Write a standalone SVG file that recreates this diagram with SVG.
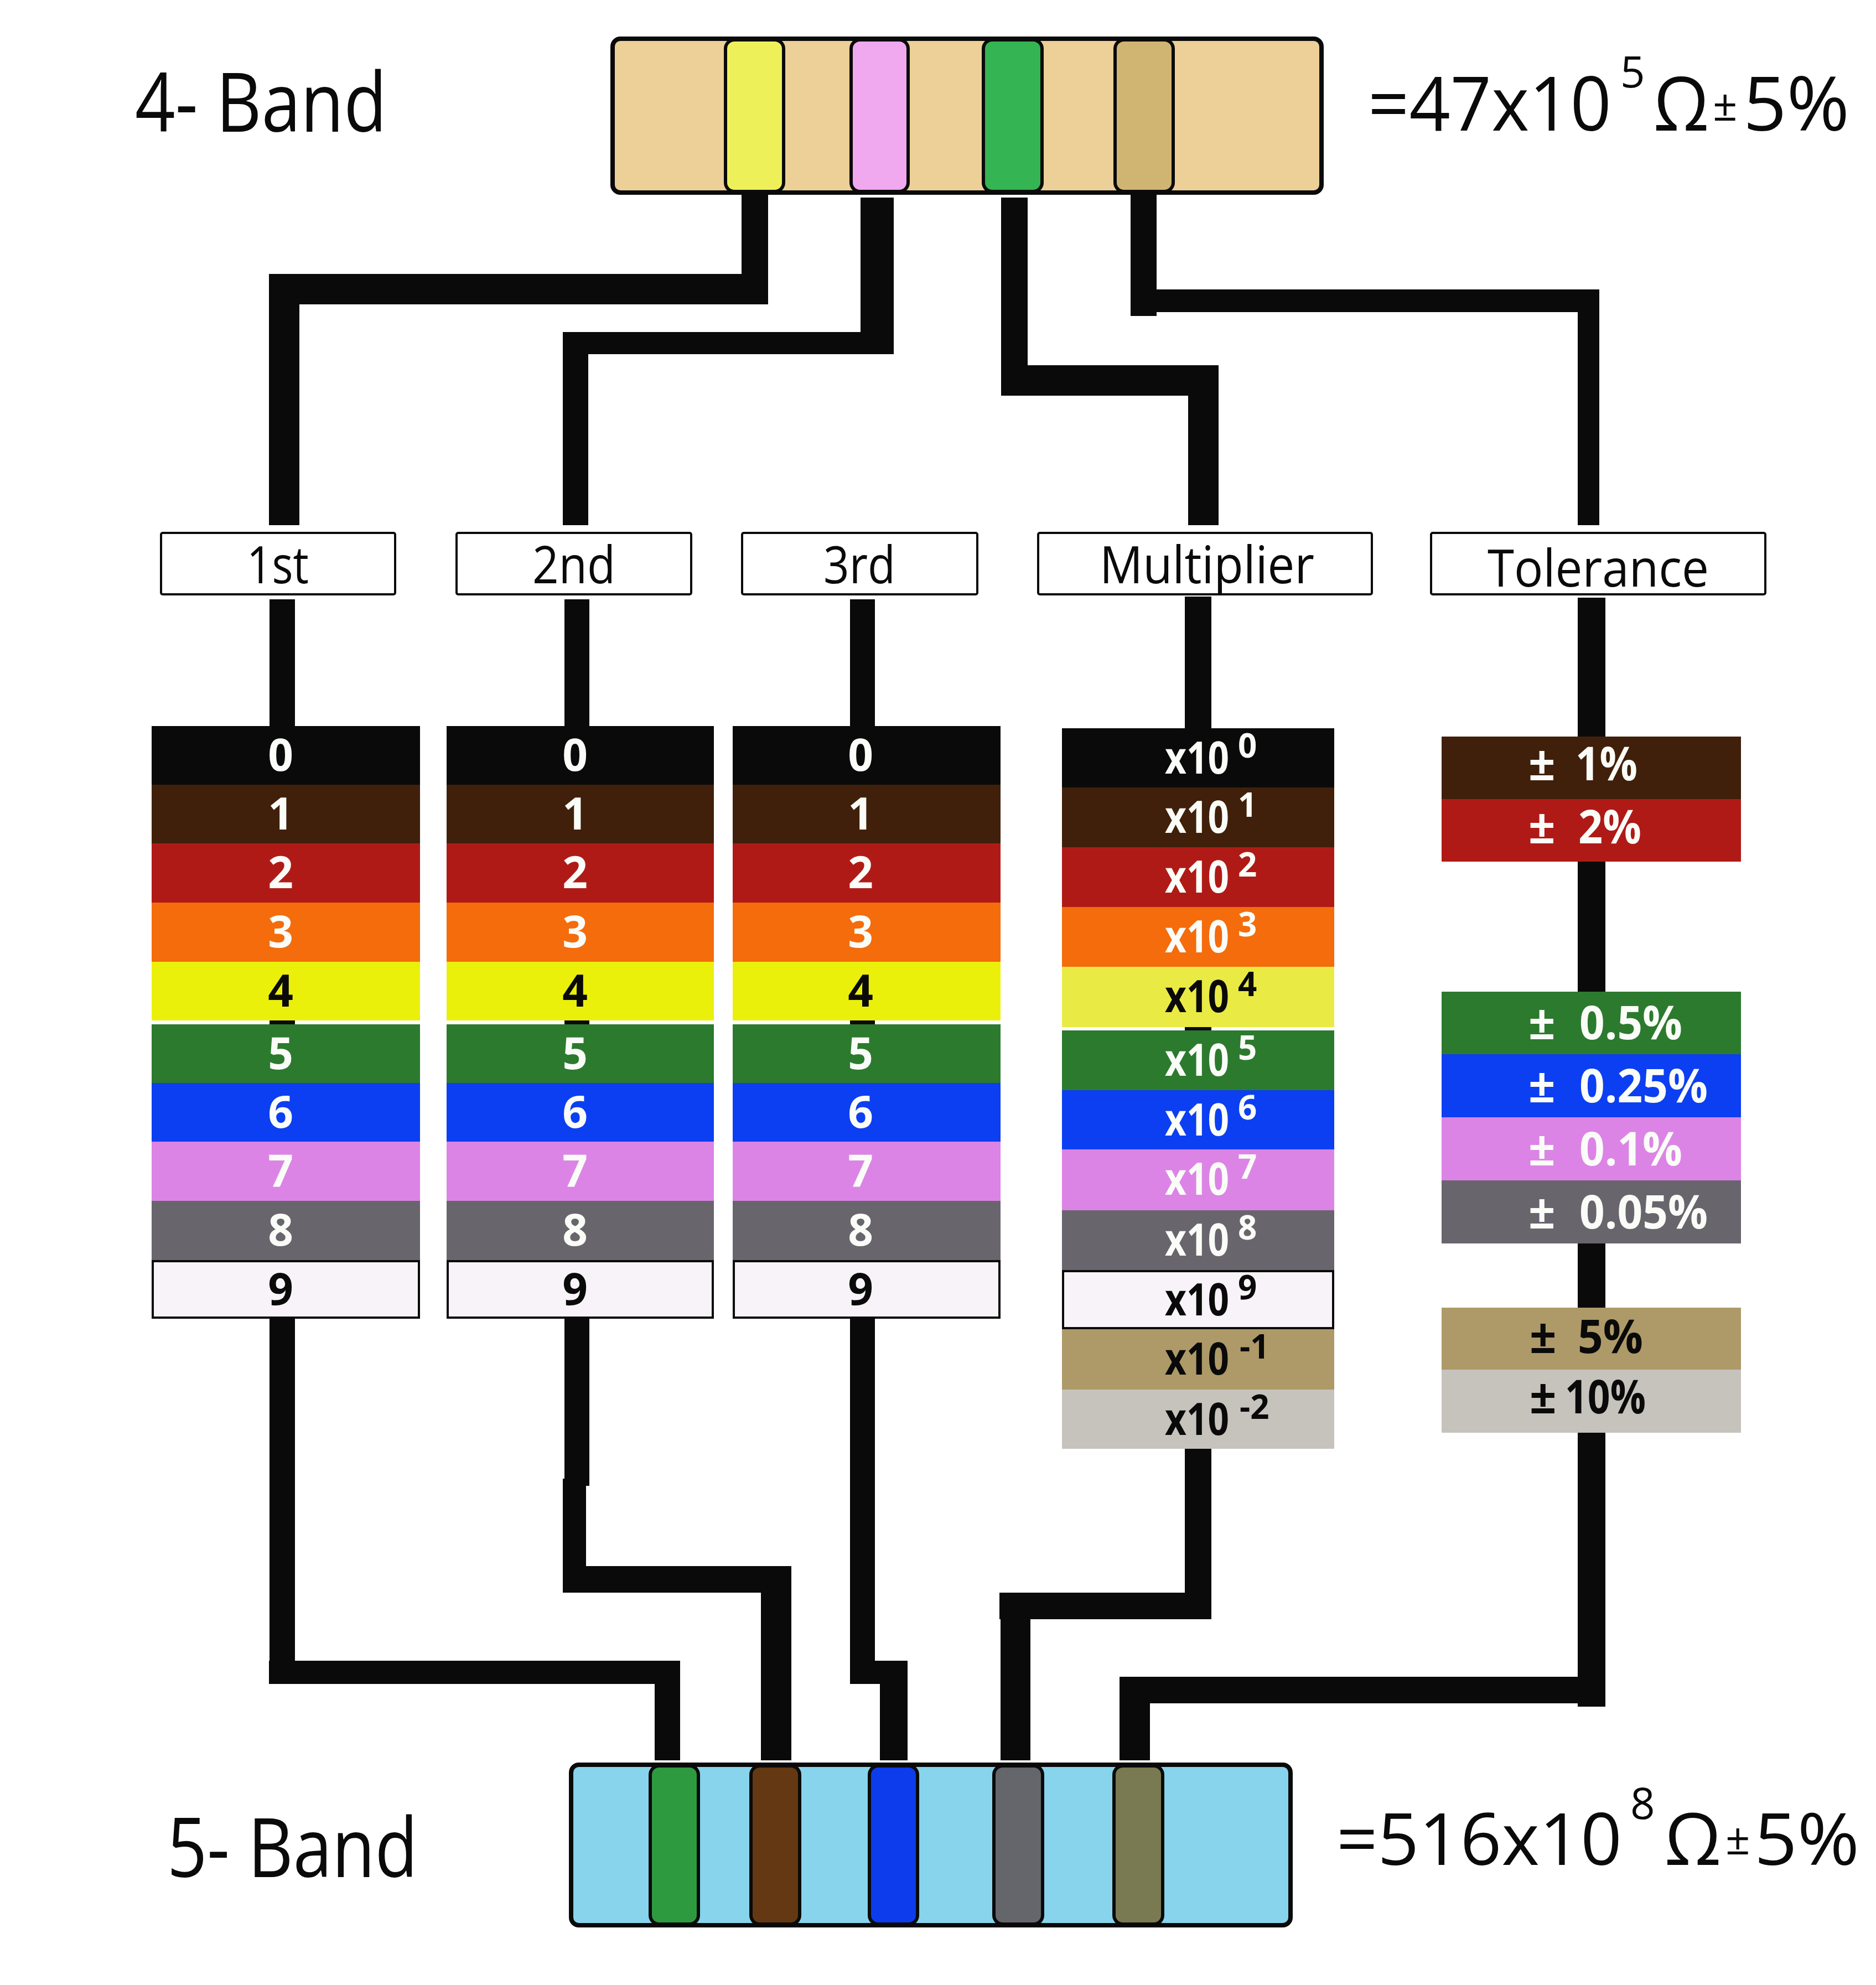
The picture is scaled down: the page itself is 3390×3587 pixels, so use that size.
<svg xmlns="http://www.w3.org/2000/svg" width="3390" height="3587" viewBox="0 0 3390 3587">
<style>
text{font-family:"Open Sans","Noto Sans","Liberation Sans",sans-serif}
.ln{fill:#0a0a0a}
.bx{fill:#fff;stroke:#0a0a0a;stroke-width:4}
.lbl{font-size:94px;fill:#0a0a0a;text-anchor:middle}
.big{font-size:136px;fill:#0a0a0a}
.big2{font-size:130px;fill:#0a0a0a}
.sup{font-size:78px;fill:#0a0a0a}
.ttl{font-size:148px;fill:#0a0a0a}
.d{font-size:80px;font-weight:700;text-anchor:middle}
.m{font-size:80px;font-weight:700}
.ms{font-size:60px;font-weight:700}
.t{font-size:85px;font-weight:700}
.w{fill:#fafcf8}
.b{fill:#0a0a0a}
.c0{fill:#0a0a0a}.c1{fill:#40200a}.c2{fill:#b01a16}.c3{fill:#f46c0c}.c4{fill:#eaf00a}.c4m{fill:#eaea44}
.c5{fill:#2c7a2e}.c6{fill:#0c3ff2}.c7{fill:#dc84e6}.c8{fill:#69656c}.c9{fill:#f7f3f8;stroke:#0a0a0a;stroke-width:4}
.cg{fill:#ae9a68}.cs{fill:#c5c3bc}
.band{stroke:#0a0a0a;stroke-width:6}
</style>

<g id="connectors">
  <rect class="ln" x="1340" y="345" width="48" height="205"/>
  <rect class="ln" x="486" y="495" width="902" height="55"/>
  <rect class="ln" x="486" y="495" width="55" height="454"/>

  <rect class="ln" x="1555" y="357" width="60" height="283"/>
  <rect class="ln" x="1017" y="600" width="598" height="40"/>
  <rect class="ln" x="1017" y="600" width="46" height="349"/>

  <rect class="ln" x="1809" y="357" width="48" height="358"/>
  <rect class="ln" x="1809" y="660" width="393" height="55"/>
  <rect class="ln" x="2147" y="660" width="55" height="289"/>

  <rect class="ln" x="2043" y="348" width="47" height="223"/>
  <rect class="ln" x="2043" y="523" width="847" height="41"/>
  <rect class="ln" x="2851" y="523" width="39" height="426"/>

  <rect class="ln" x="487" y="1083" width="46" height="1960"/>
  <rect class="ln" x="486" y="3001" width="743" height="42"/>
  <rect class="ln" x="1183" y="3001" width="46" height="180"/>

  <rect class="ln" x="1020" y="1083" width="45" height="1602"/>
  <rect class="ln" x="1017" y="2672" width="42" height="206"/>
  <rect class="ln" x="1017" y="2830" width="413" height="48"/>
  <rect class="ln" x="1375" y="2830" width="55" height="351"/>

  <rect class="ln" x="1536" y="1083" width="45" height="1960"/>
  <rect class="ln" x="1536" y="3001" width="104" height="42"/>
  <rect class="ln" x="1590" y="3001" width="50" height="180"/>

  <rect class="ln" x="2141" y="1078" width="48" height="1800"/>
  <rect class="ln" x="1806" y="2878" width="383" height="48"/>
  <rect class="ln" x="1808" y="2878" width="54" height="303"/>

  <rect class="ln" x="2851" y="1080" width="50" height="2004"/>
  <rect class="ln" x="2023" y="3030" width="878" height="48"/>
  <rect class="ln" x="2023" y="3030" width="55" height="151"/>
</g>

<g id="title-4band">
  <text class="ttl" x="244" y="238" textLength="455" lengthAdjust="spacingAndGlyphs">4- Band</text>
</g>
<g id="title-5band">
  <text class="ttl" x="302" y="3392" textLength="453" lengthAdjust="spacingAndGlyphs">5- Band</text>
</g>

<g id="resistor-4band">
  <rect x="1107" y="70" width="1281" height="278" rx="14" fill="#edcf98" stroke="#0a0a0a" stroke-width="8"/>
  <rect class="band" x="1311" y="72" width="105" height="274" rx="16" fill="#eef05a"/>
  <rect class="band" x="1538" y="72" width="103" height="274" rx="16" fill="#f0a8ee"/>
  <rect class="band" x="1777" y="72" width="106" height="274" rx="16" fill="#34b452"/>
  <rect class="band" x="2015" y="72" width="105" height="274" rx="16" fill="#d0b572"/>
  <text class="big" x="2472" y="236" textLength="440" lengthAdjust="spacingAndGlyphs">=47x10</text>
  <text class="sup" x="2928" y="158">5</text>
  <text class="big" x="2988" y="236" textLength="100" lengthAdjust="spacingAndGlyphs">Ω</text>
  <text class="sup" x="3095" y="218">±</text>
  <text class="big" x="3150" y="236" textLength="192" lengthAdjust="spacingAndGlyphs">5%</text>
</g>

<g id="resistor-5band">
  <rect x="1032" y="3189" width="1300" height="290" rx="14" fill="#87d4ec" stroke="#0a0a0a" stroke-width="8"/>
  <rect class="band" x="1175" y="3191" width="87" height="286" rx="16" fill="#2e9a40"/>
  <rect class="band" x="1357" y="3191" width="88" height="286" rx="16" fill="#643812"/>
  <rect class="band" x="1571" y="3191" width="87" height="286" rx="16" fill="#0c3ceb"/>
  <rect class="band" x="1796" y="3191" width="88" height="286" rx="16" fill="#65666c"/>
  <rect class="band" x="2013" y="3191" width="88" height="286" rx="16" fill="#7a7a52"/>
  <text class="big2" x="2415" y="3370" textLength="516" lengthAdjust="spacingAndGlyphs">=516x10</text>
  <text class="sup" x="2946" y="3287">8</text>
  <text class="big2" x="3008" y="3370" textLength="102" lengthAdjust="spacingAndGlyphs">Ω</text>
  <text class="sup" x="3118" y="3351">±</text>
  <text class="big2" x="3170" y="3370" textLength="190" lengthAdjust="spacingAndGlyphs">5%</text>
</g>

<g id="label-1st"><rect class="bx" x="291" y="963" width="423" height="111" rx="3"/><text class="lbl" x="502" y="1054" textLength="112" lengthAdjust="spacingAndGlyphs">1st</text></g>
<g id="label-2nd"><rect class="bx" x="825" y="963" width="424" height="111" rx="3"/><text class="lbl" x="1037" y="1054" textLength="150" lengthAdjust="spacingAndGlyphs">2nd</text></g>
<g id="label-3rd"><rect class="bx" x="1341" y="963" width="425" height="111" rx="3"/><text class="lbl" x="1553" y="1054" textLength="130" lengthAdjust="spacingAndGlyphs">3rd</text></g>
<g id="label-multiplier"><rect class="bx" x="1876" y="963" width="603" height="111" rx="3"/><text class="lbl" x="2181" y="1054" textLength="388" lengthAdjust="spacingAndGlyphs">Multiplier</text></g>
<g id="label-tolerance"><rect class="bx" x="2586" y="963" width="604" height="111" rx="3"/><text class="lbl" x="2888" y="1060" textLength="400" lengthAdjust="spacingAndGlyphs">Tolerance</text></g>

<g id="stack-1st">
  <rect class="c0" x="274" y="1312" width="485" height="106"/>
  <rect class="c1" x="274" y="1418" width="485" height="106"/>
  <rect class="c2" x="274" y="1524" width="485" height="107"/>
  <rect class="c3" x="274" y="1631" width="485" height="107"/>
  <rect class="c4" x="274" y="1738" width="485" height="106"/>
  <rect class="c5" x="274" y="1851" width="485" height="106"/>
  <rect class="c6" x="274" y="1957" width="485" height="106"/>
  <rect class="c7" x="274" y="2063" width="485" height="107"/>
  <rect class="c8" x="274" y="2170" width="485" height="107"/>
  <rect class="c9" x="276" y="2279" width="481" height="102"/>
  <text class="d w" x="507" y="1393">0</text>
  <text class="d w" x="507" y="1499">1</text>
  <text class="d w" x="507" y="1605">2</text>
  <text class="d w" x="507" y="1712">3</text>
  <text class="d b" x="507" y="1819">4</text>
  <text class="d w" x="507" y="1932">5</text>
  <text class="d w" x="507" y="2038">6</text>
  <text class="d w" x="507" y="2144">7</text>
  <text class="d w" x="507" y="2251">8</text>
  <text class="d b" x="507" y="2358">9</text>
</g>

<g id="stack-2nd">
  <rect class="c0" x="807" y="1312" width="483" height="106"/>
  <rect class="c1" x="807" y="1418" width="483" height="106"/>
  <rect class="c2" x="807" y="1524" width="483" height="107"/>
  <rect class="c3" x="807" y="1631" width="483" height="107"/>
  <rect class="c4" x="807" y="1738" width="483" height="106"/>
  <rect class="c5" x="807" y="1851" width="483" height="106"/>
  <rect class="c6" x="807" y="1957" width="483" height="106"/>
  <rect class="c7" x="807" y="2063" width="483" height="107"/>
  <rect class="c8" x="807" y="2170" width="483" height="107"/>
  <rect class="c9" x="809" y="2279" width="479" height="102"/>
  <text class="d w" x="1039" y="1393">0</text>
  <text class="d w" x="1039" y="1499">1</text>
  <text class="d w" x="1039" y="1605">2</text>
  <text class="d w" x="1039" y="1712">3</text>
  <text class="d b" x="1039" y="1819">4</text>
  <text class="d w" x="1039" y="1932">5</text>
  <text class="d w" x="1039" y="2038">6</text>
  <text class="d w" x="1039" y="2144">7</text>
  <text class="d w" x="1039" y="2251">8</text>
  <text class="d b" x="1039" y="2358">9</text>
</g>

<g id="stack-3rd">
  <rect class="c0" x="1324" y="1312" width="484" height="106"/>
  <rect class="c1" x="1324" y="1418" width="484" height="106"/>
  <rect class="c2" x="1324" y="1524" width="484" height="107"/>
  <rect class="c3" x="1324" y="1631" width="484" height="107"/>
  <rect class="c4" x="1324" y="1738" width="484" height="106"/>
  <rect class="c5" x="1324" y="1851" width="484" height="106"/>
  <rect class="c6" x="1324" y="1957" width="484" height="106"/>
  <rect class="c7" x="1324" y="2063" width="484" height="107"/>
  <rect class="c8" x="1324" y="2170" width="484" height="107"/>
  <rect class="c9" x="1326" y="2279" width="480" height="102"/>
  <text class="d w" x="1555" y="1393">0</text>
  <text class="d w" x="1555" y="1499">1</text>
  <text class="d w" x="1555" y="1605">2</text>
  <text class="d w" x="1555" y="1712">3</text>
  <text class="d b" x="1555" y="1819">4</text>
  <text class="d w" x="1555" y="1932">5</text>
  <text class="d w" x="1555" y="2038">6</text>
  <text class="d w" x="1555" y="2144">7</text>
  <text class="d w" x="1555" y="2251">8</text>
  <text class="d b" x="1555" y="2358">9</text>
</g>

<g id="stack-multiplier">
  <rect class="c0" x="1919" y="1316" width="492" height="107"/>
  <rect class="c1" x="1919" y="1423" width="492" height="108"/>
  <rect class="c2" x="1919" y="1531" width="492" height="108"/>
  <rect class="c3" x="1919" y="1639" width="492" height="108"/>
  <rect class="c4m" x="1919" y="1747" width="492" height="109"/>
  <rect class="c5" x="1919" y="1862" width="492" height="108"/>
  <rect class="c6" x="1919" y="1970" width="492" height="107"/>
  <rect class="c7" x="1919" y="2077" width="492" height="110"/>
  <rect class="c8" x="1919" y="2187" width="492" height="108"/>
  <rect class="c9" x="1921" y="2297" width="488" height="103"/>
  <rect class="cg" x="1919" y="2402" width="492" height="109"/>
  <rect class="cs" x="1919" y="2511" width="492" height="107"/>
  <g class="w">
    <text class="m" x="2105" y="1398" textLength="116" lengthAdjust="spacingAndGlyphs">x10</text><text class="ms" x="2237" y="1369">0</text>
    <text class="m" x="2105" y="1505" textLength="116" lengthAdjust="spacingAndGlyphs">x10</text><text class="ms" x="2237" y="1476">1</text>
    <text class="m" x="2105" y="1613" textLength="116" lengthAdjust="spacingAndGlyphs">x10</text><text class="ms" x="2237" y="1584">2</text>
    <text class="m" x="2105" y="1721" textLength="116" lengthAdjust="spacingAndGlyphs">x10</text><text class="ms" x="2237" y="1692">3</text>
  </g>
  <g class="b">
    <text class="m" x="2105" y="1829" textLength="116" lengthAdjust="spacingAndGlyphs">x10</text><text class="ms" x="2237" y="1800">4</text>
  </g>
  <g class="w">
    <text class="m" x="2105" y="1944" textLength="116" lengthAdjust="spacingAndGlyphs">x10</text><text class="ms" x="2237" y="1915">5</text>
    <text class="m" x="2105" y="2052" textLength="116" lengthAdjust="spacingAndGlyphs">x10</text><text class="ms" x="2237" y="2023">6</text>
    <text class="m" x="2105" y="2159" textLength="116" lengthAdjust="spacingAndGlyphs">x10</text><text class="ms" x="2237" y="2130">7</text>
    <text class="m" x="2105" y="2269" textLength="116" lengthAdjust="spacingAndGlyphs">x10</text><text class="ms" x="2237" y="2240">8</text>
  </g>
  <g class="b">
    <text class="m" x="2105" y="2377" textLength="116" lengthAdjust="spacingAndGlyphs">x10</text><text class="ms" x="2237" y="2348">9</text>
    <text class="m" x="2105" y="2484" textLength="116" lengthAdjust="spacingAndGlyphs">x10</text><text class="ms" x="2240" y="2455">-1</text>
    <text class="m" x="2105" y="2593" textLength="116" lengthAdjust="spacingAndGlyphs">x10</text><text class="ms" x="2240" y="2564">-2</text>
  </g>
</g>

<g id="stack-tolerance">
  <rect class="c1" x="2605" y="1331" width="541" height="113"/>
  <rect class="c2" x="2605" y="1444" width="541" height="113"/>
  <rect class="c5" x="2605" y="1792" width="541" height="113"/>
  <rect class="c6" x="2605" y="1905" width="541" height="114"/>
  <rect class="c7" x="2605" y="2019" width="541" height="114"/>
  <rect class="c8" x="2605" y="2133" width="541" height="114"/>
  <rect class="cg" x="2605" y="2363" width="541" height="112"/>
  <rect class="cs" x="2605" y="2475" width="541" height="114"/>
  <g class="w">
    <text class="t" x="2762" y="1410">±</text><text class="t" x="2847" y="1410" textLength="112" lengthAdjust="spacingAndGlyphs">1%</text>
    <text class="t" x="2762" y="1524">±</text><text class="t" x="2852" y="1524" textLength="114" lengthAdjust="spacingAndGlyphs">2%</text>
    <text class="t" x="2762" y="1878">±</text><text class="t" x="2854" y="1878" textLength="186" lengthAdjust="spacingAndGlyphs">0.5%</text>
    <text class="t" x="2762" y="1992">±</text><text class="t" x="2854" y="1992" textLength="232" lengthAdjust="spacingAndGlyphs">0.25%</text>
    <text class="t" x="2762" y="2106">±</text><text class="t" x="2854" y="2106" textLength="186" lengthAdjust="spacingAndGlyphs">0.1%</text>
    <text class="t" x="2762" y="2220">±</text><text class="t" x="2854" y="2220" textLength="232" lengthAdjust="spacingAndGlyphs">0.05%</text>
  </g>
  <g class="b">
    <text class="t" x="2764" y="2445">±</text><text class="t" x="2851" y="2445" textLength="118" lengthAdjust="spacingAndGlyphs">5%</text>
    <text class="t" x="2764" y="2554">±</text><text class="t" x="2828" y="2554" textLength="146" lengthAdjust="spacingAndGlyphs">10%</text>
  </g>
</g>
</svg>
